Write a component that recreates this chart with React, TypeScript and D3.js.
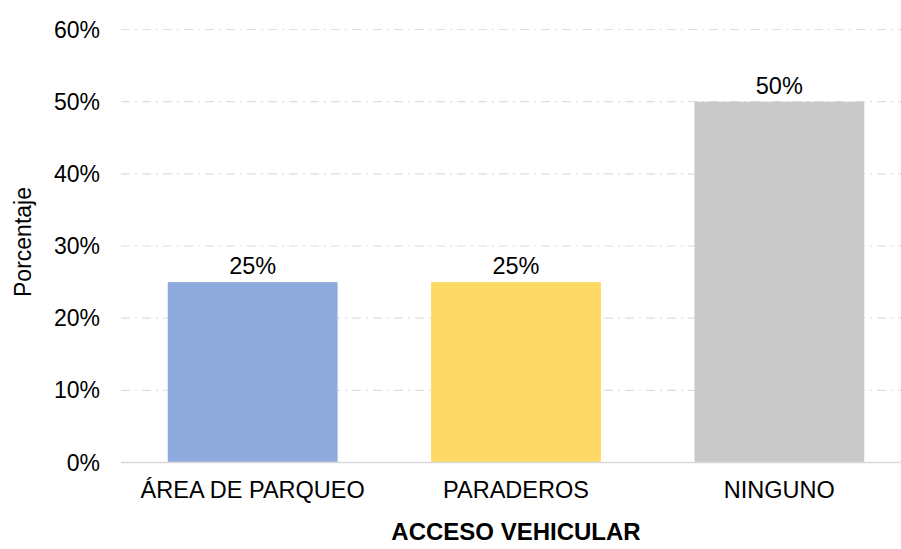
import React from 'react';
import * as d3 from 'd3';

const categories = ['ÁREA DE PARQUEO', 'PARADEROS', 'NINGUNO'];
const values = [0.25, 0.25, 0.5];
const barColors = ['#8faadc', '#ffd966', '#c9c9c9'];
const yTicks = [0, 0.1, 0.2, 0.3, 0.4, 0.5, 0.6];
const yTitle = 'Porcentaje';
const xTitle = 'ACCESO VEHICULAR';

const W = 901;
const H = 549;
const font = '"Liberation Sans", Arial, sans-serif';

export default function App() {
    const x = d3.scaleBand<string>()
        .domain(categories)
        .range([121, 911])
        .paddingInner(0.355)
        .paddingOuter(0.1775);
    const y = d3.scaleLinear().domain([0, 0.6]).range([462.5, 29.5]);
    const pct = d3.format('.0%');

    return (
        <svg width={W} height={H} style={{position: 'absolute', left: 0, top: 0, background: '#fff'}} fontFamily={font}>
            {yTicks.slice(1).map(t => (
                <line key={t} x1={121} x2={W} y1={y(t)} y2={y(t)}
                      stroke="#dedede" strokeWidth={1.2} strokeDasharray="9,5,2,5" />
            ))}
            {categories.map((c, i) => (
                <rect key={c} x={x(c)} y={y(values[i])} width={x.bandwidth()}
                      height={y(0) - y(values[i])} fill={barColors[i]} />
            ))}
            <line x1={121} x2={W} y1={y(0)} y2={y(0)} stroke="#d9d9d9" strokeWidth={1.5} />
            {yTicks.map(t => (
                <text key={t} x={100} y={y(t)} dy="0.35em" textAnchor="end" fontSize={23} fill="#000">{pct(t)}</text>
            ))}
            {categories.map((c, i) => (
                <g key={c}>
                    <text x={(x(c) as number) + x.bandwidth() / 2} y={y(values[i]) - 8}
                          textAnchor="middle" fontSize={23.5} fill="#000">{pct(values[i])}</text>
                    <text x={(x(c) as number) + x.bandwidth() / 2} y={498}
                          textAnchor="middle" fontSize={23.5} fill="#000">{c}</text>
                </g>
            ))}
            <text transform={`translate(31,${(y(0) + y(0.6)) / 2 - 4}) rotate(-90)`} textAnchor="middle"
                  fontSize={23} fill="#000">{yTitle}</text>
            <text x={516} y={540} textAnchor="middle" fontSize={24} fontWeight="bold" fill="#000">{xTitle}</text>
        </svg>
    );
}
